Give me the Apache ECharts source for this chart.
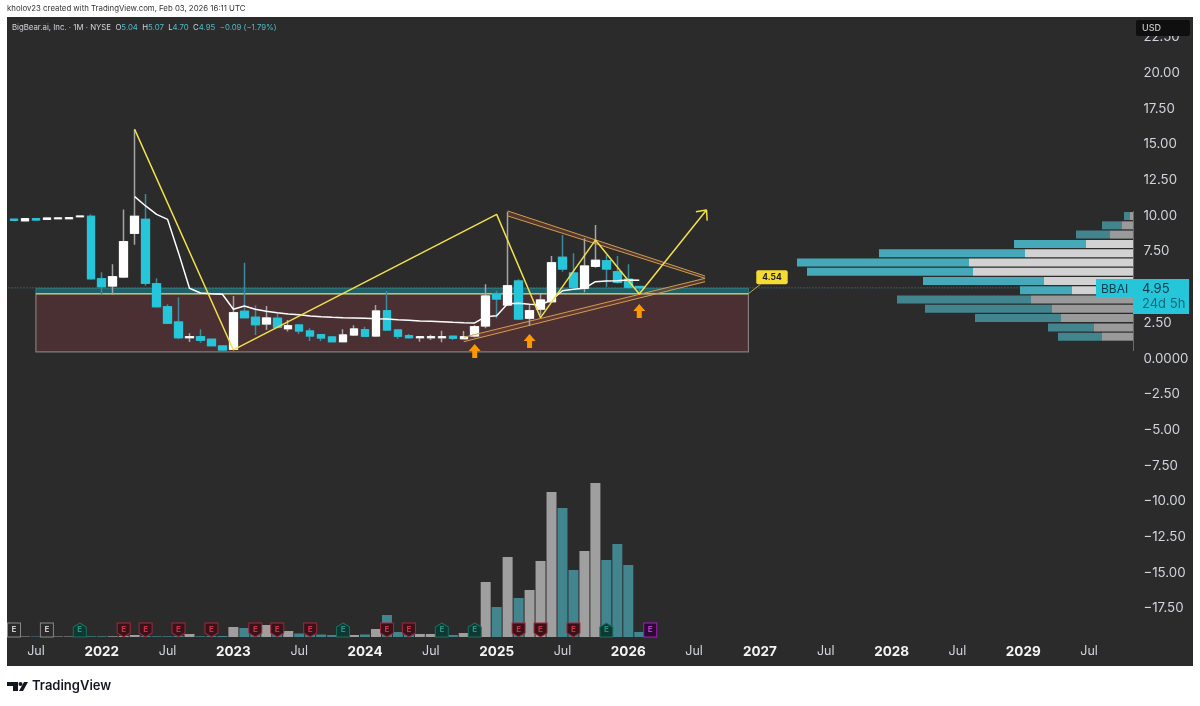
<!DOCTYPE html>
<html>
<head>
<meta charset="UTF-8">
<title>BBAI monthly</title>
<script src="https://cdn.jsdelivr.net/npm/echarts@6/dist/echarts.min.js"></script>
<style>
html, body { margin: 0; padding: 0; background: #fff; }
#chart { width: 1200px; height: 706px; }
</style>
</head>
<body>
<div id="chart"></div>
<script type="text/javascript">
// monthly bars, May 2021 to Feb 2026, the axis runs on to Nov 2029
var months = [];
for (var yr = 2021; yr <= 2029; yr++) {
	for (var mo = 1; mo <= 12; mo++) {
		if ((yr == 2021 && mo < 5) || (yr == 2029 && mo > 11)) continue;
		months.push(yr + '-' + (mo < 10 ? '0' : '') + mo);
	}
}
var opens = [9.76, 9.65, 9.80, 9.75, 9.80, 9.80, 9.94, 9.96,
	5.59, 5.08, 5.71, 8.77, 9.75, 5.24, 3.63, 2.56, 1.46, 1.53, 1.35, 0.88,
	0.64, 3.31, 2.89, 2.42, 2.82, 2.09, 2.35, 1.93, 1.67, 1.51, 1.18, 1.65,
	2.02, 1.58, 3.35, 2.00, 1.60, 1.46, 1.46, 1.46, 1.56, 1.39, 1.58, 2.28,
	4.52, 3.75, 5.43, 2.82, 3.46, 3.98, 7.09, 5.99, 4.92, 6.46, 6.85, 6.08,
	5.55, 5.04];
var closes = [9.68, 9.80, 9.71, 9.84, 9.85, 9.87, 9.98, 5.59,
	5.03, 5.73, 8.19, 9.96, 5.27, 3.63, 2.47, 1.46, 1.53, 1.28, 0.90, 0.60,
	3.21, 2.86, 2.37, 2.84, 2.19, 2.30, 1.93, 1.58, 1.44, 1.18, 1.65, 2.07,
	1.56, 3.33, 2.00, 1.56, 1.46, 1.53, 1.53, 1.53, 1.42, 1.53, 2.23, 4.38,
	4.17, 5.10, 2.77, 3.35, 4.10, 6.71, 6.27, 4.99, 6.48, 6.88, 6.27, 5.34,
	4.99, 4.95];
var lows = [9.66, 9.63, 9.69, 9.73, 9.78, 9.78, 9.92, 5.52,
	4.43, 4.47, 5.64, 7.98, 5.10, 3.56, 2.42, 1.35, 1.16, 1.11, 0.88, 0.50,
	0.60, 2.82, 1.65, 2.00, 2.12, 1.90, 1.72, 1.23, 1.23, 1.13, 1.13, 1.58,
	1.51, 1.51, 1.93, 1.39, 1.39, 1.18, 1.30, 1.13, 1.30, 1.35, 1.49, 2.12,
	2.82, 3.68, 2.70, 2.28, 3.05, 3.90, 6.08, 4.90, 4.64, 6.36, 4.99, 5.25,
	4.90, 4.70];
var highs = [9.78, 9.82, 9.82, 9.86, 9.87, 9.89, 10.00, 10.10,
	6.04, 6.60, 10.45, 16.06, 11.53, 5.62, 3.80, 4.29, 1.77, 2.05, 1.40, 0.92,
	4.38, 6.71, 3.73, 3.68, 3.17, 2.70, 2.38, 2.12, 1.72, 1.55, 2.05, 2.33,
	2.23, 3.75, 4.73, 2.07, 1.72, 1.53, 1.67, 1.95, 1.60, 1.93, 2.33, 5.20,
	4.75, 10.29, 5.55, 3.75, 4.52, 7.18, 8.65, 7.37, 8.42, 9.35, 7.25, 7.18,
	6.60, 5.07];
// volume read as bar height, one unit is one pixel of the reference
var volumes = [0.5, 0.5, 0.5, 0.5, 0.5, 0.5, 0.5, 0.7,
	0.7, 0.7, 1, 2, 1, 0.7, 0.7, 1, 3, 0.7, 1, 1,
	10, 9, 7, 12, 6, 6, 3.5, 2, 2.5, 2, 1.5, 2,
	2.5, 8, 22, 5, 2, 3, 3, 1.5, 2, 4, 3, 55,
	30, 80, 39, 47, 76, 145, 129, 67, 86, 154, 77, 93,
	72, 5];
// moving average, starts Apr 2022
var maStart = 11;
var maValues = [11.34, 10.69, 10.10, 9.75, 7.40, 4.92, 4.59, 4.54, 4.50,
	3.45, 3.68, 3.45, 3.31, 3.21, 3.12, 3.07, 2.98, 2.93, 2.89, 2.86, 2.84,
	2.82, 2.79, 2.77, 2.72, 2.68, 2.63, 2.61, 2.58, 2.54, 2.51, 2.49, 2.93,
	3.00, 3.84, 3.87, 3.80, 3.77, 4.10, 4.75, 4.85, 4.92, 5.38, 5.43, 5.45,
	5.50, 5.48];

// drawings, [month index, price]
var zigzag = [[11, 16.06], [20, 0.60], [44, 10.10], [48, 2.86], [53, 8.30], [57, 4.52], [63.13, 10.41]];
var arrowHead = [[62.16, 10.29], [63.13, 10.41], [63.19, 9.66]];
var upperBand = [[45, 10.34], [63, 5.78], [63, 5.62], [45, 9.99]];
var lowerBand = [[41, 1.49], [63, 5.62], [63, 5.38], [41, 1.18]];
var boxMonths = [2, 66.95];
var boxPrices = [0.47, 4.54];
var tealBand = [4.54, 4.92];
var levelPrice = 4.54;
var lastPrice = 4.95;
var calloutLeg = [[66.95, 4.54], [68.05, 5.2]];
var orangeArrows = [[42, 0.53], [47, 1.23], [57, 3.33]];

// earnings flags
var earnGray = ['2021-05', '2021-08'];
var earnGreen = ['2021-11', '2023-11', '2024-08', '2024-11', '2025-11'];
var earnRed = ['2022-03', '2022-05', '2022-08', '2022-11', '2023-03', '2023-05', '2023-08', '2024-03', '2024-05', '2025-03', '2025-05', '2025-08'];
var earnNext = ['2026-03'];

// volume profile, rows from bottom to top
var profileLevels = ['0.9', '1.5', '2.2', '2.8', '3.5', '4.1', '4.8', '5.4', '6.1', '6.7', '7.4', '8.0', '8.7', '9.3', '10.0'];
var profileUp = [0, 31, 39, 72, 81, 102, 61, 89, 160, 164, 108, 47, 23, 11, 3];
var profileDown = [0, 44, 46, 86, 127, 134, 52, 121, 166, 172, 146, 72, 34, 20, 6];
var profileBright = ['4.8', '5.4', '6.1', '6.7', '7.4', '8.0'];

var CYAN = '#26c6da';
var TEAL = '#42858f';
var GRAY = '#9f9f9f';
var YELLOW = '#f1e04a';
var TAN = '#c9a04f';
var FONT = 'Inter, "Noto Sans", sans-serif';

var wickData = opens.map(function (o, i) { return [o, closes[i], lows[i], highs[i]]; });
var bodyData = opens.map(function (o, i) {
	return [o, closes[i], Math.min(o, closes[i]), Math.max(o, closes[i])];
});
var maData = maValues.map(function (v, i) { return [months[maStart + i], v]; });
var volumeData = volumes.map(function (v, i) {
	return { value: v, itemStyle: { color: closes[i] > opens[i] ? GRAY : TEAL } };
});
function flagData(list) {
	return list.map(function (m) { return [m, 7]; });
}

// plain line on the month index axis
function drawLine(points, color, width, type, z) {
	return {
		type: 'line', xAxisIndex: 1, yAxisIndex: 0, data: points, z: z || 6,
		showSymbol: false, silent: true, animation: false,
		lineStyle: { color: color, width: width, type: type || 'solid' }
	};
}
function drawPolygon(points, fill) {
	return {
		type: 'custom', xAxisIndex: 1, yAxisIndex: 0, data: [[points[0][0], points[0][1]]], z: 2, silent: true,
		renderItem: function (params, api) {
			return {
				type: 'polygon',
				shape: { points: points.map(function (p) { return api.coord(p); }) },
				style: { fill: fill }
			};
		}
	};
}
function flagSeries(list, symbol, fill, stroke, text) {
	return {
		type: 'scatter', xAxisIndex: 2, yAxisIndex: 1, data: flagData(list), z: 7, silent: true,
		symbol: symbol, symbolSize: [13, 14],
		itemStyle: { color: fill, borderColor: stroke, borderWidth: 1, opacity: 1 },
		label: { show: true, position: 'inside', formatter: 'E', color: text, fontSize: 8, fontWeight: 'bold', fontFamily: FONT }
	};
}
function profileColor(row, bright, dim) {
	return profileBright.indexOf(profileLevels[row]) >= 0 ? bright : dim;
}

var chart = echarts.init(document.getElementById('chart'));
chart.setOption({
	animation: false,
	backgroundColor: '#fff',
	title: [{
		text: 'kholov23 created with TradingView.com, Feb 03, 2026 16:11 UTC',
		left: 7, top: 5, padding: 0,
		textStyle: { color: '#333', fontSize: 7.8, fontWeight: 'normal', fontFamily: FONT }
	}, {
		text: '{l|BigBear.ai, Inc. · 1M · NYSE}  {l|O}{v|5.04}  {l|H}{v|5.07}  {l|L}{v|4.70}  {l|C}{v|4.95}  {v|−0.09 (−1.79%)}',
		left: 12, top: 24, padding: 0,
		textStyle: {
			fontSize: 7.8, fontWeight: 'normal', fontFamily: FONT,
			rich: {
				l: { color: '#d1d4dc', fontSize: 7.8, fontFamily: FONT },
				v: { color: '#4fb9c8', fontSize: 7.8, fontFamily: FONT }
			}
		}
	}],
	grid: [
		{ left: 8.5, width: 1129.9, top: 1.75, height: 642.15 },
		{ left: 8.5, width: 1129.9, top: 337, height: 300 },
		{ left: 750, width: 383, top: 211.4, height: 139.2 }
	],
	xAxis: [
		{ type: 'category', gridIndex: 0, data: months, show: false },
		{ type: 'value', gridIndex: 0, min: -0.5, max: 102.5, show: false },
		{
			type: 'category', gridIndex: 1, data: months,
			axisLine: { show: false }, axisTick: { show: false },
			axisLabel: {
				interval: function (i, m) { return /-(01|07)$/.test(m); },
				hideOverlap: false, margin: 8,
				formatter: function (m) {
					return m.slice(5) == '07' ? '{mo|Jul}' : '{yr|' + m.slice(0, 4) + '}';
				},
				rich: {
					mo: { color: '#d1d4dc', fontSize: 12.5, fontFamily: FONT },
					yr: { color: '#f4f4f4', fontSize: 13.5, fontWeight: 'bold', fontFamily: FONT }
				}
			}
		},
		{ type: 'value', gridIndex: 2, inverse: true, min: 0, max: 383, show: false }
	],
	yAxis: [
		{
			type: 'value', gridIndex: 0, position: 'right', min: -20, max: 25, interval: 2.5,
			splitLine: { show: false }, axisLine: { show: false }, axisTick: { show: false },
			axisLabel: {
				color: '#d1d4dc', fontSize: 13.3, fontFamily: FONT, margin: 5, align: 'left', padding: [3, 0, 0, 0],
				formatter: function (v) {
					if (v == -20 || v == 25) return '';
					if (v == 0) return '0.0000';
					return v.toFixed(2).replace('-', '−');
				}
			}
		},
		{ type: 'value', gridIndex: 1, min: 0, max: 300, show: false },
		{
			type: 'category', gridIndex: 2, data: profileLevels, position: 'right',
			axisLine: { show: true, lineStyle: { color: '#6b6b6b', width: 1 } },
			axisTick: { show: false }, axisLabel: { show: false }
		}
	],
	series: [
		// box behind the candles
		{
			type: 'line', xAxisIndex: 1, yAxisIndex: 0, data: [], z: 1, silent: true,
			markArea: {
				silent: true,
				itemStyle: { color: '#4a3032', borderColor: '#857c7c', borderWidth: 1.2 },
				data: [[{ coord: [boxMonths[0], boxPrices[0]] }, { coord: [boxMonths[1], boxPrices[1]] }]]
			}
		},
		{
			type: 'line', xAxisIndex: 1, yAxisIndex: 0, data: [], z: 1, silent: true,
			markArea: {
				silent: true,
				itemStyle: { color: '#1f5f66', borderColor: '#2f777c', borderWidth: 1 },
				data: [[{ coord: [boxMonths[0], tealBand[0]] }, { coord: [boxMonths[1], tealBand[1]] }]]
			}
		},
		drawLine([[-0.5, lastPrice], [102.5, lastPrice]], '#3f8a9a', 1, [1, 2], 1),
		drawLine([[boxMonths[0], levelPrice], [boxMonths[1], levelPrice]], '#c2bd70', 1.5, 'solid', 2),
		drawPolygon(upperBand, 'rgba(125,60,55,0.55)'),
		drawPolygon(lowerBand, 'rgba(125,60,55,0.55)'),
		// volume
		{ type: 'bar', xAxisIndex: 2, yAxisIndex: 1, data: volumeData, barWidth: 10, z: 2, silent: true },
		// wicks, then bodies on top of them
		{
			type: 'candlestick', xAxisIndex: 0, yAxisIndex: 0, data: wickData, barWidth: 8, z: 3, silent: true,
			itemStyle: { color: '#ffffff', color0: CYAN, borderColor: '#a4a4a4', borderColor0: '#3f8a9a', borderWidth: 1.5 }
		},
		{
			type: 'candlestick', xAxisIndex: 0, yAxisIndex: 0, data: bodyData, barWidth: 8, z: 4, silent: true,
			itemStyle: { color: '#ffffff', color0: CYAN, borderColor: '#ffffff', borderColor0: CYAN, borderWidth: 1 }
		},
		{
			type: 'line', xAxisIndex: 0, yAxisIndex: 0, data: maData, z: 5, showSymbol: false, silent: true,
			lineStyle: { color: '#ffffff', width: 1.5 }
		},
		drawLine([upperBand[0], upperBand[1]], TAN, 1),
		drawLine([upperBand[3], upperBand[2]], TAN, 1),
		drawLine([lowerBand[0], lowerBand[1]], TAN, 1),
		drawLine([lowerBand[3], lowerBand[2]], TAN, 1),
		drawLine(zigzag, YELLOW, 1.5, 'solid', 7),
		drawLine(arrowHead, YELLOW, 1.5, 'solid', 7),
		drawLine(calloutLeg, '#b9ad3c', 1, 'solid', 7),
		{
			type: 'scatter', xAxisIndex: 1, yAxisIndex: 0, data: orangeArrows, z: 8, silent: true,
			symbol: 'path://M6 0L12 7H8.5V14H3.5V7H0Z', symbolSize: [12, 14],
			itemStyle: { color: '#ff9800', opacity: 1 }
		},
		{
			type: 'scatter', xAxisIndex: 1, yAxisIndex: 0, data: [calloutLeg[1]], z: 8, silent: true,
			symbolSize: 0,
			itemStyle: { opacity: 1 },
			label: {
				show: true, position: 'inside', offset: [11.5, -7], formatter: '4.54',
				color: '#1d1d1d', backgroundColor: '#f5dc35', borderRadius: 2,
				padding: [3, 6, 2, 6], fontSize: 8.5, fontWeight: 'bold', fontFamily: FONT
			}
		},
		// earnings flags along the volume base
		flagSeries(earnGray, 'rect', '#2a2a2a', '#8a8a8a', '#c8c8c8'),
		flagSeries(earnGreen, 'path://M7 0L14 4V14H0V4Z', '#0c3a33', '#1c6f60', '#2f8f7c'),
		flagSeries(earnRed, 'path://M0 0H14V10L7 14L0 10Z', '#3a1219', '#a32a3c', '#c43347'),
		flagSeries(earnNext, 'rect', '#2c0a33', '#a61fc0', '#b63ad0'),
		// volume profile
		{
			type: 'bar', xAxisIndex: 3, yAxisIndex: 2, stack: 'vp', barWidth: 8, z: 6, silent: true,
			data: profileUp.map(function (v, i) {
				return { value: v, itemStyle: { color: profileColor(i, '#d2d2d2', '#9a9a9a') } };
			})
		},
		{
			type: 'bar', xAxisIndex: 3, yAxisIndex: 2, stack: 'vp', barWidth: 8, z: 6, silent: true,
			data: profileDown.map(function (v, i) {
				return { value: v, itemStyle: { color: profileColor(i, '#46a9b9', TEAL) } };
			})
		}
	],
	graphic: [
		{ type: 'rect', z: -1, shape: { x: 7, y: 17, width: 1186, height: 649 }, style: { fill: '#2b2b2b' } },
		// USD badge
		{ type: 'rect', z: 100, shape: { x: 1136, y: 20, width: 54, height: 16, r: 2 }, style: { fill: '#0f0f0f' } },
		{ type: 'text', z: 101, x: 1142, y: 24, style: { text: 'USD', fill: '#c9c9c9', font: '500 9px ' + FONT } },
		// last price tag
		{ type: 'rect', z: 100, shape: { x: 1096, y: 279, width: 37, height: 18 }, style: { fill: CYAN } },
		{ type: 'rect', z: 100, shape: { x: 1133, y: 279, width: 56, height: 35 }, style: { fill: CYAN } },
		{ type: 'text', z: 101, x: 1101, y: 283, style: { text: 'BBAI', fill: '#0d3d48', font: '12px ' + FONT } },
		{ type: 'text', z: 101, x: 1142, y: 283, style: { text: '4.95', fill: '#0d3d48', font: '13px ' + FONT } },
		{ type: 'text', z: 101, x: 1142, y: 298, style: { text: '24d 5h', fill: '#14697a', font: '13px ' + FONT } },
		// logo
		{ type: 'polygon', z: 100, shape: { points: [[7, 682], [18, 682], [18, 691], [13, 691], [13, 686], [7, 686]] }, style: { fill: '#131722' } },
		{ type: 'circle', z: 100, shape: { cx: 20.5, cy: 684, r: 2 }, style: { fill: '#131722' } },
		{ type: 'polygon', z: 100, shape: { points: [[24, 682], [28, 682], [23, 691], [19, 691]] }, style: { fill: '#131722' } },
		{ type: 'text', z: 100, x: 32, y: 680, style: { text: 'TradingView', fill: '#131722', font: '600 13px ' + FONT } }
	]
});
</script>
</body>
</html>
